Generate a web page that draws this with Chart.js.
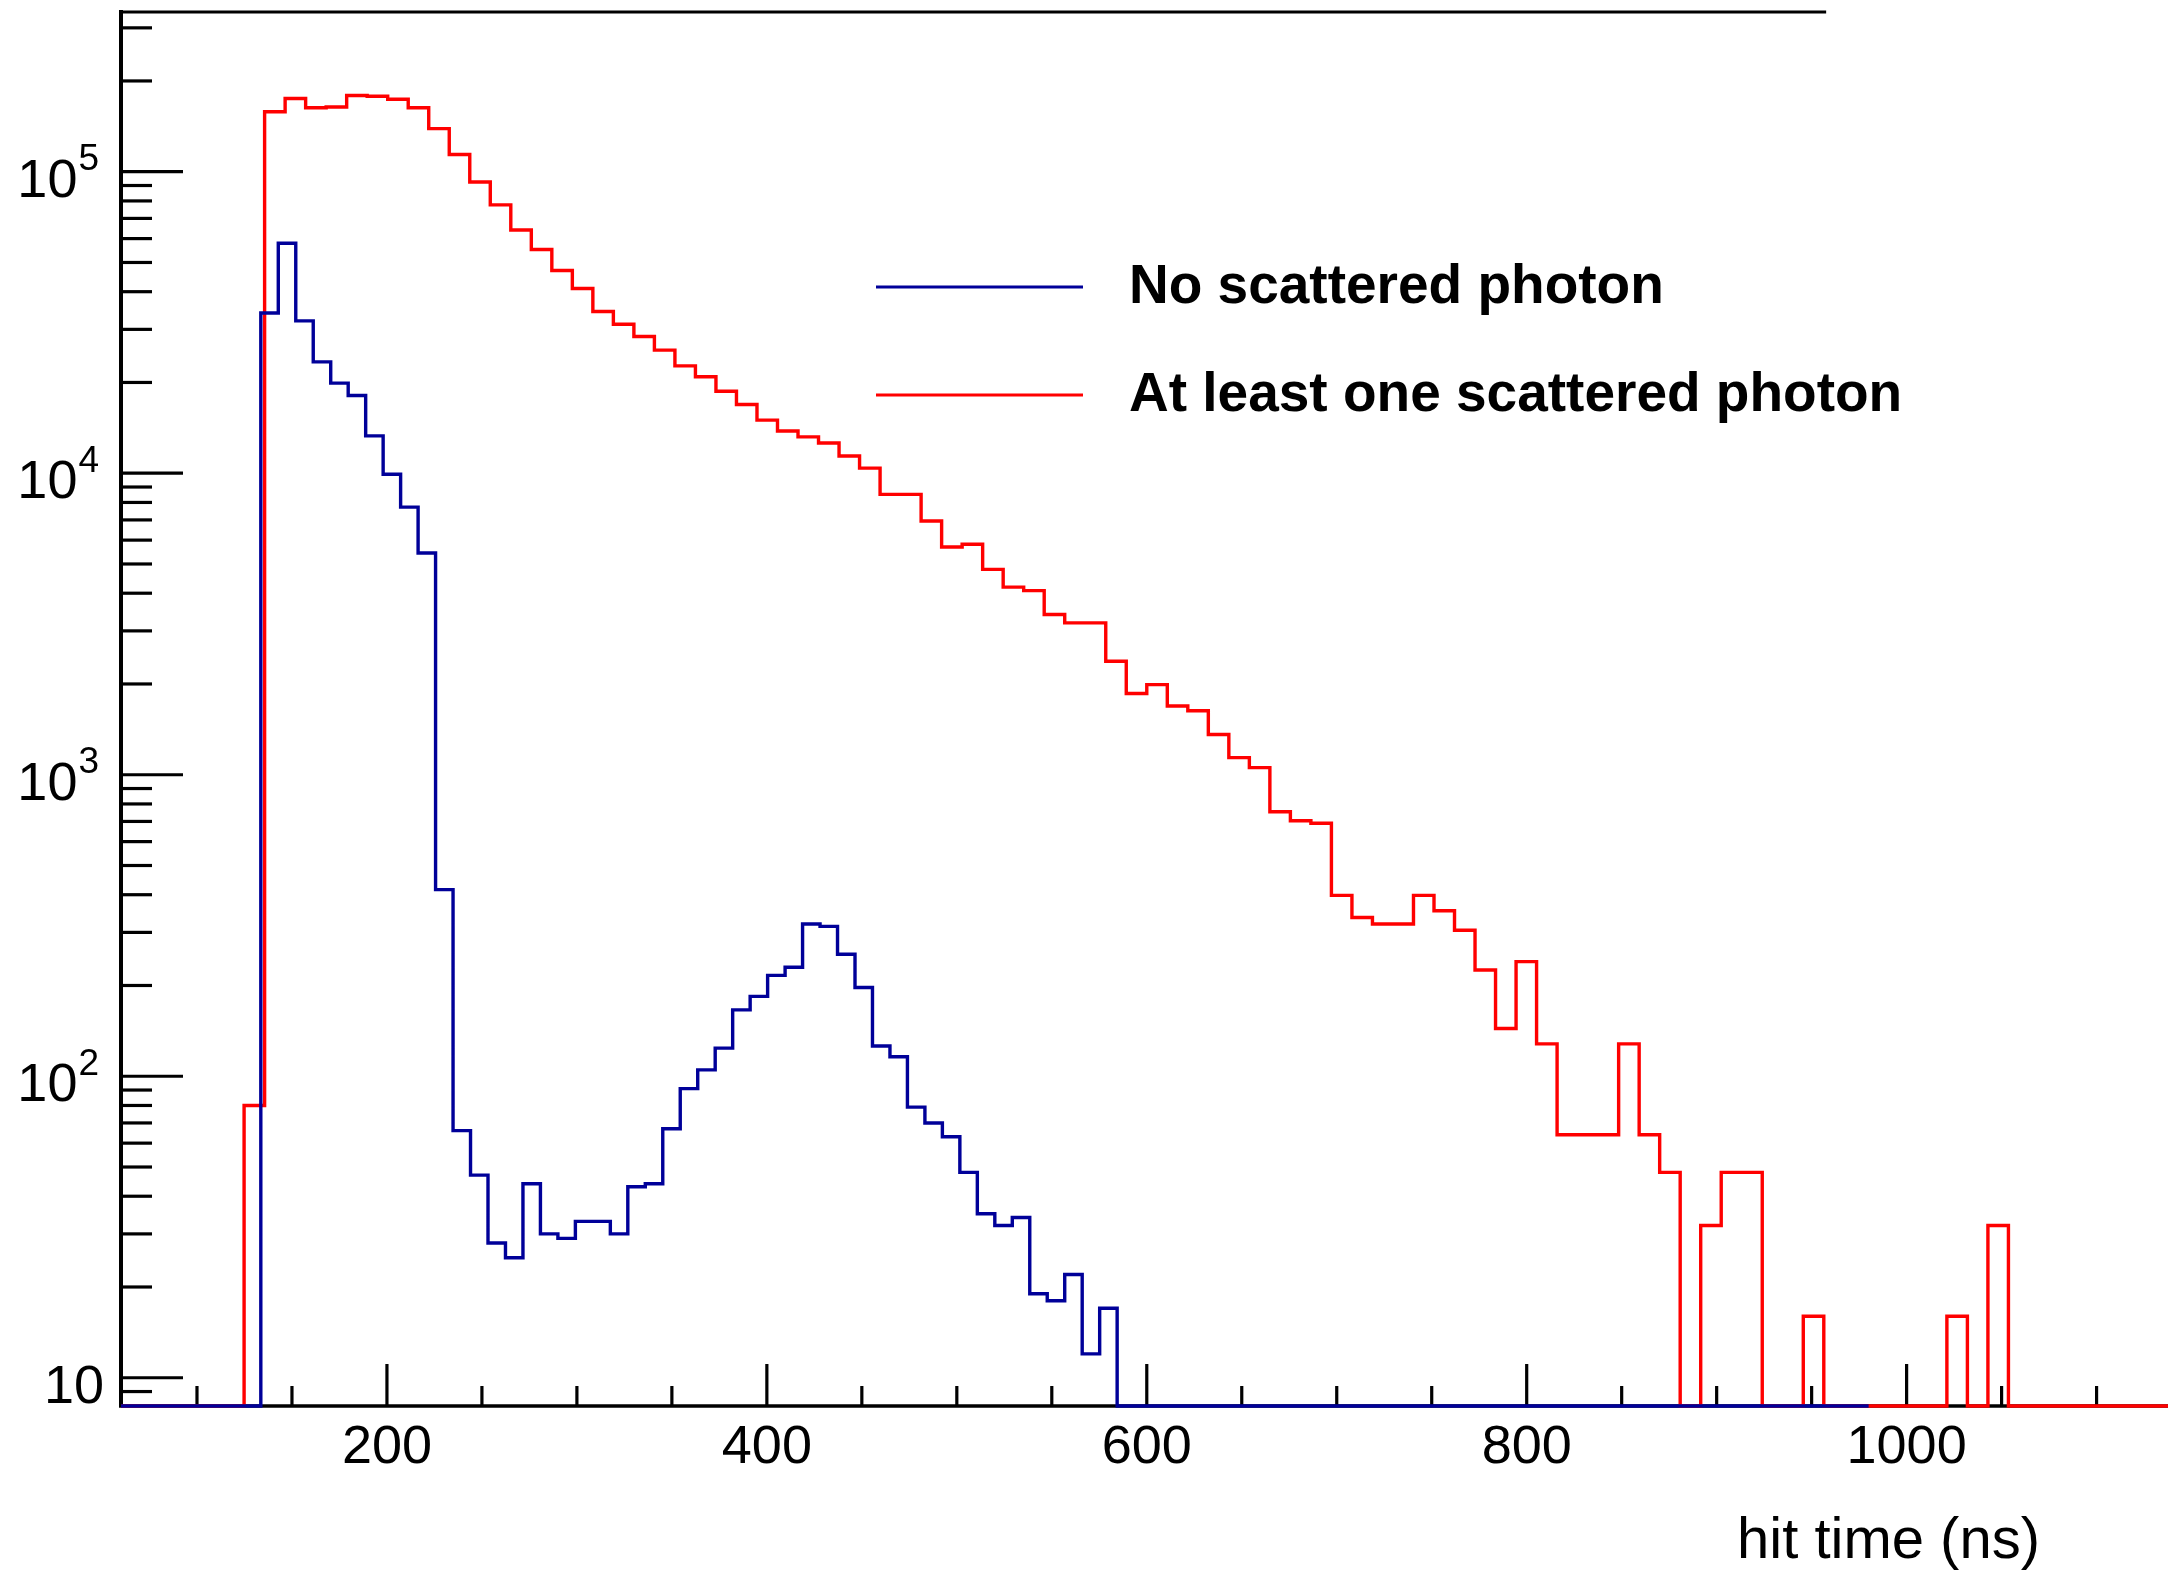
<!DOCTYPE html>
<html>
<head>
<meta charset="utf-8">
<title>hit time</title>
<script src="https://cdn.jsdelivr.net/npm/chart.js@4.4.0/dist/chart.umd.min.js"></script>
<style>
  html, body { margin: 0; padding: 0; background: #fff; overflow: hidden; }
  #hitChart { display: block; }
</style>
</head>
<body>
<canvas id="hitChart" width="2168" height="1571"></canvas>
<script>
// Two histograms, 100 bins each but not the same range
const noScatLow = 60, noScatHigh = 980;
const scatLow = 60, scatHigh = 1140;

const noScatLabel = 'No scattered photon';
const scatLabel = 'At least one scattered photon';

const noScatCounts = [
  0, 0, 0, 0, 0, 0, 0, 0, 34000, 57900,
  32000, 23400, 19900, 18100, 13300, 9920, 7720, 5440, 416, 66,
  47, 28, 25, 44, 30, 29, 33, 33, 30, 43,
  44, 67, 91, 105, 124, 166, 184, 216, 230, 320,
  314, 254, 197, 126, 116, 79, 70, 63, 48, 35,
  32, 34, 19, 18, 22, 12, 17, 0, 0, 0,
  0, 0, 0, 0, 0, 0, 0, 0, 0, 0,
  0, 0, 0, 0, 0, 0, 0, 0, 0, 0,
  0, 0, 0, 0, 0, 0, 0, 0, 0, 0,
  0, 0, 0, 0, 0, 0, 0, 0, 0, 0
];
const scatCounts = [
  0, 0, 0, 0, 0, 0, 80, 158000, 175000, 163000,
  164000, 179000, 178000, 174000, 163000, 139000, 114000, 92400, 77600, 64100,
  55200, 47000, 41000, 34400, 31200, 28400, 25600, 22700, 20900, 18700,
  16900, 15000, 13800, 13200, 12600, 11400, 10400, 8510, 8510, 6940,
  5690, 5810, 4800, 4190, 4080, 3400, 3190, 3190, 2380, 1860,
  1990, 1690, 1630, 1360, 1140, 1056, 754, 704, 690, 398,
  336, 320, 320, 398, 354, 305, 225, 144, 240, 128,
  64, 64, 64, 128, 64, 48, 0, 32, 48, 48,
  0, 0, 16, 0, 0, 0, 0, 0, 0, 16,
  0, 32, 0, 0, 0, 0, 0, 0, 0, 0
];

// axes
const xMin = 60, xMax = 1137.6;
const yMin = 8.06, yMax = 338600;
const xMajorTicks = [200, 400, 600, 800, 1000];
const xMinorStep = 50;
const yDecades = [10, 100, 1000, 10000, 100000];
const yExponents = ['', '2', '3', '4', '5'];
const xTitle = 'hit time (ns)';

const blueCol = '#000099';
const redCol = '#ff0000';
const fontName = '"Liberation Sans", Arial, Helvetica, sans-serif';

// histogram -> points on the bin edges (empty bins sit on the frame, like ROOT)
function histPoints(counts, lo, hi) {
  const w = (hi - lo) / counts.length;
  const pts = counts.map((c, i) => ({ x: lo + i * w, y: Math.max(c, yMin) }));
  pts.push({ x: hi, y: Math.max(counts[counts.length - 1], yMin) });
  return pts;
}

// frame, ticks, labels and legend drawn the ROOT way (ticks pointing inwards)
const rootFrame = {
  id: 'rootFrame',
  beforeDatasetsDraw(chart) {
    const { ctx, chartArea: a, scales: { x, y } } = chart;
    ctx.save();
    ctx.strokeStyle = '#000';
    ctx.fillStyle = '#000';
    ctx.lineCap = 'butt';

    // axes
    ctx.lineWidth = 4;
    ctx.beginPath();
    ctx.moveTo(a.left, a.top - 2);
    ctx.lineTo(a.left, a.bottom);
    ctx.stroke();
    ctx.lineWidth = 3.5;
    ctx.beginPath();
    ctx.moveTo(a.left - 2, a.bottom);
    ctx.lineTo(a.right, a.bottom);
    ctx.stroke();
    // top line of the frame (only partly visible in the original)
    ctx.lineWidth = 3;
    ctx.beginPath();
    ctx.moveTo(a.left - 2, a.top);
    ctx.lineTo(a.left + (a.right - a.left) * 0.833, a.top);
    ctx.stroke();

    // x ticks
    ctx.lineWidth = 3.2;
    for (let v = 100; v <= xMax; v += xMinorStep) {
      const px = x.getPixelForValue(v);
      const len = xMajorTicks.includes(v) ? 42 : 20;
      ctx.beginPath();
      ctx.moveTo(px, a.bottom);
      ctx.lineTo(px, a.bottom - len);
      ctx.stroke();
    }
    // y ticks
    for (let d = 1; d <= yMax; d *= 10) {
      for (let m = 1; m <= 9; m++) {
        const v = m * d;
        if (v < yMin || v > yMax) continue;
        const py = y.getPixelForValue(v);
        const len = m === 1 ? 62 : 31;
        ctx.beginPath();
        ctx.moveTo(a.left, py);
        ctx.lineTo(a.left + len, py);
        ctx.stroke();
      }
    }

    // x labels
    ctx.font = '54px ' + fontName;
    ctx.textAlign = 'center';
    ctx.textBaseline = 'alphabetic';
    xMajorTicks.forEach(v => {
      ctx.fillText(String(v), x.getPixelForValue(v), a.bottom + 57);
    });

    // y labels, 10^n with a raised exponent
    yDecades.forEach((v, i) => {
      const py = y.getPixelForValue(v);
      const ex = yExponents[i];
      ctx.font = '54px ' + fontName;
      if (!ex) {
        ctx.textAlign = 'right';
        ctx.fillText('10', a.left - 17, py + 25);
        return;
      }
      ctx.textAlign = 'left';
      const wBase = ctx.measureText('10').width;
      ctx.font = '37px ' + fontName;
      const wExp = ctx.measureText(ex).width;
      const x0 = a.left - 23 - wBase - wExp;
      ctx.fillText(ex, x0 + wBase + 1, py - 1.5);
      ctx.font = '54px ' + fontName;
      ctx.fillText('10', x0, py + 25);
    });

    // axis title
    ctx.font = '58px ' + fontName;
    ctx.textAlign = 'right';
    ctx.fillText(xTitle, 2040, a.bottom + 152);
    ctx.restore();
  },
  afterDraw(chart) {
    const { ctx } = chart;
    ctx.save();
    ctx.lineWidth = 3;
    ctx.font = 'bold 55px ' + fontName;
    ctx.textAlign = 'left';
    ctx.textBaseline = 'alphabetic';
    ctx.fillStyle = '#000';
    chart.data.datasets.forEach((ds, i) => {
      const ly = 287 + i * 108;
      ctx.strokeStyle = ds.borderColor;
      ctx.beginPath();
      ctx.moveTo(876, ly);
      ctx.lineTo(1083, ly);
      ctx.stroke();
      ctx.fillText(ds.label, 1129, ly + 16);
    });
    ctx.restore();
  }
};

const ctx = document.getElementById('hitChart').getContext('2d');

const histStyle = {
  borderWidth: 3.4,
  pointRadius: 0,
  stepped: true,
  fill: false,
  tension: 0,
  clip: false,
  borderJoinStyle: 'miter',
  borderCapStyle: 'butt'
};

// dataset 0 is drawn last, so the blue one ends up on top
const hitChart = new Chart(ctx, {
  type: 'line',
  data: {
    datasets: [
      Object.assign({
        label: noScatLabel,
        data: histPoints(noScatCounts, noScatLow, noScatHigh),
        borderColor: blueCol
      }, histStyle),
      Object.assign({
        label: scatLabel,
        data: histPoints(scatCounts, scatLow, scatHigh),
        borderColor: redCol
      }, histStyle)
    ]
  },
  options: {
    responsive: false,
    devicePixelRatio: 1,
    animation: false,
    layout: { padding: { left: 121, top: 12, right: 0, bottom: 165 } },
    scales: {
      x: { type: 'linear', min: xMin, max: xMax, display: false },
      y: { type: 'logarithmic', min: yMin, max: yMax, display: false }
    },
    plugins: {
      legend: { display: false },
      tooltip: { enabled: false }
    }
  },
  plugins: [rootFrame]
});
</script>
</body>
</html>
